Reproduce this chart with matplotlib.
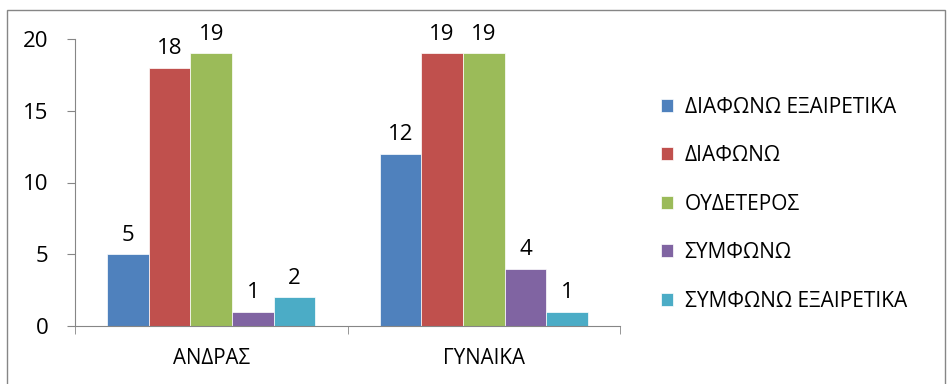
import matplotlib

matplotlib.use("Agg")
import matplotlib.pyplot as plt
import numpy as np
from matplotlib.patches import Rectangle

plt.rcParams["font.family"] = ["Open Sans", "DejaVu Sans"]

categories = ["ΑΝΔΡΑΣ", "ΓΥΝΑΙΚΑ"]
series = ["ΔΙΑΦΩΝΩ ΕΞΑΙΡΕΤΙΚΑ", "ΔΙΑΦΩΝΩ", "ΟΥΔΕΤΕΡΟΣ", "ΣΥΜΦΩΝΩ", "ΣΥΜΦΩΝΩ ΕΞΑΙΡΕΤΙΚΑ"]
values = [
    [5, 12],
    [18, 19],
    [19, 19],
    [1, 4],
    [2, 1],
]
colors = ["#4F81BD", "#C0504D", "#9BBB59", "#8064A2", "#4BACC6"]

W, H = 949, 384
fig = plt.figure(figsize=(W / 100, H / 100), dpi=100)
# outer chart border (bottom edge runs off the image)
fig.patches.append(Rectangle((7 / W, -5 / H), 938 / W, 379 / H,
                             transform=fig.transFigure, fill=False,
                             edgecolor="#868686", linewidth=1.0))

ax = fig.add_axes([75 / W, 58 / H, 545 / W, 287 / H])

n = len(series)
bar_w = 0.153
x = np.arange(len(categories))
for i, (name, vals, c) in enumerate(zip(series, values, colors)):
    pos = x + (i - (n - 1) / 2) * bar_w
    bars = ax.bar(pos, vals, width=bar_w, color=c, label=name,
                  edgecolor="white", linewidth=0.5)
    for b, v in zip(bars, vals):
        ax.text(b.get_x() + b.get_width() / 2, v + 0.6, str(v),
                ha="center", va="bottom", fontsize=16)

ax.set_xlim(-0.5, len(categories) - 0.5)
ax.set_ylim(0, 20)
ax.set_yticks([0, 5, 10, 15, 20])
ax.set_xticks(x)
ax.set_xticklabels(categories)
ax.set_xticks([-0.5, 0.5, 1.5], minor=True)
ax.tick_params(axis="x", which="major", length=0, pad=16, labelsize=14.8)
ax.tick_params(axis="x", which="minor", length=6, color="#868686")
ax.tick_params(axis="y", length=6, color="#868686", labelsize=16, pad=13)

for s in ["top", "right"]:
    ax.spines[s].set_visible(False)
for s in ["left", "bottom"]:
    ax.spines[s].set_color("#868686")

ax.legend(loc="center left", bbox_to_anchor=(1.04, 0.425), frameon=False,
          fontsize=15, handlelength=0.6, handleheight=0.6,
          handletextpad=0.55, labelspacing=1.32)

fig.savefig("out.png", dpi=100)
